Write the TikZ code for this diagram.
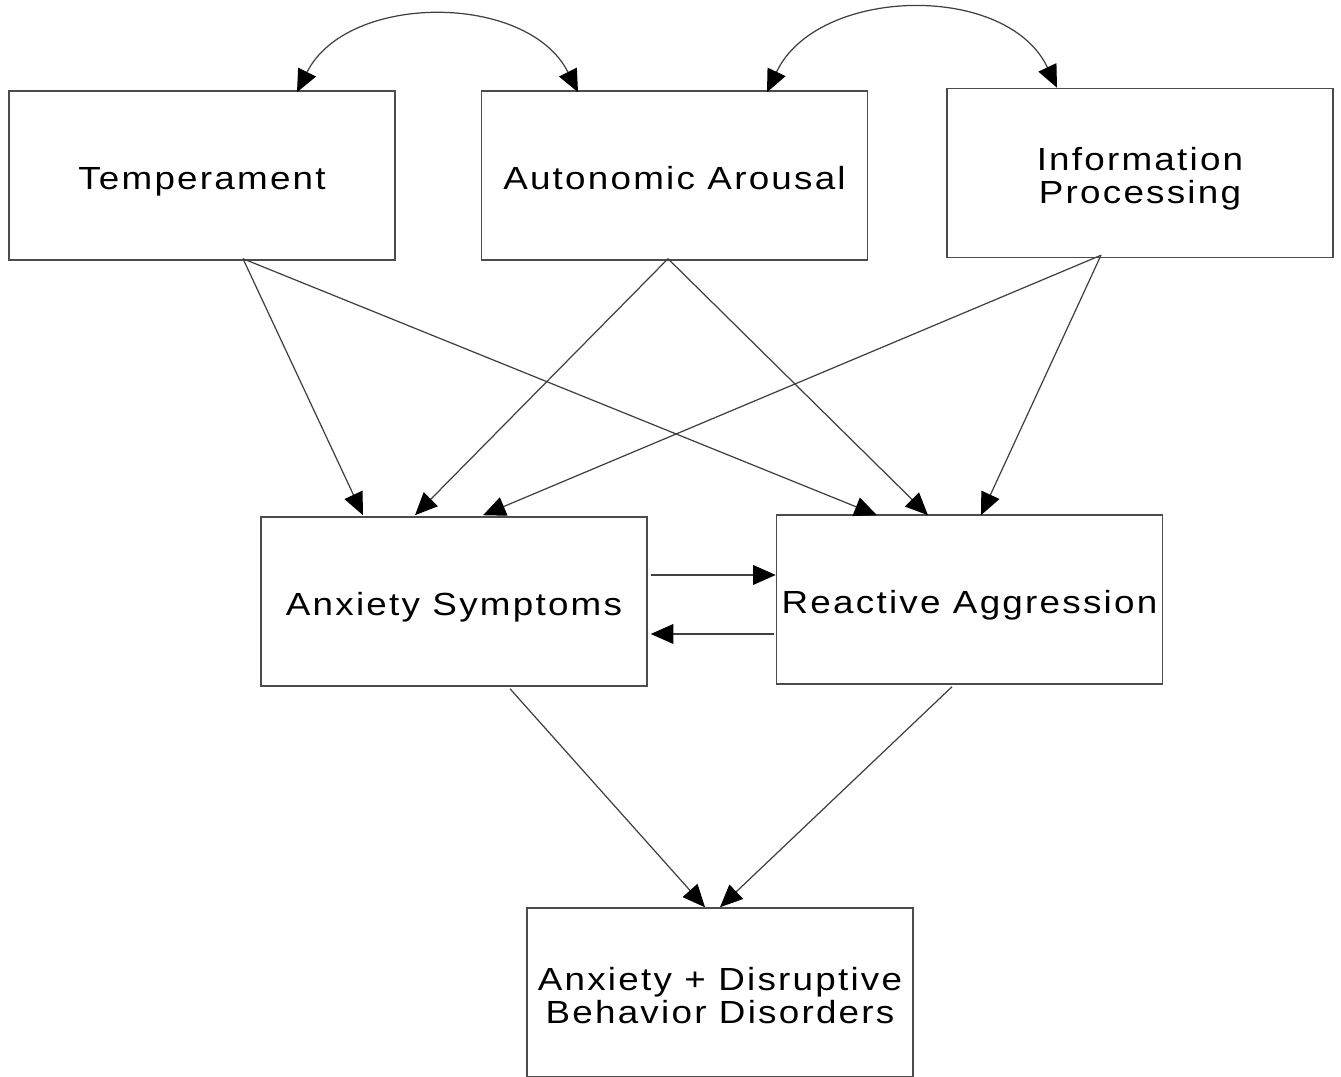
\documentclass[tikz,border=0pt]{standalone}
\usepackage{fontspec}
\setmainfont{Liberation Sans}[FakeStretch=1.15, LetterSpace=7]
\usepackage{tikz}
\usetikzlibrary{arrows.meta, calc}

% two centred lines, set a bit lower in the box
\newcommand{\twolines}[2]{\begin{tabular}{@{}c@{}}\rule{0pt}{11pt}#1\\#2\end{tabular}}

\tikzset{
  factor/.style={draw=black!70, line width=0.4pt, minimum width=3.86cm,
    minimum height=1.69cm, inner sep=0pt, text height=7.8pt, text depth=0pt,
    font=\fontsize{9.1}{9.3}\selectfont},
  twoline/.style={text height=, text depth=},
  tip/.style={-{Triangle[length=6.4pt, width=5.6pt, black]}},
  path/.style={draw=black!75, line width=0.35pt, tip},
  corr/.style={draw=black!75, line width=0.35pt,
    {Triangle[length=6.4pt, width=5.6pt, black]}-{Triangle[length=6.4pt, width=5.6pt, black]}}
}

\begin{document}
\begin{tikzpicture}[x=0.01cm, y=-0.01cm]
  \useasboundingbox (0,0) rectangle (1341,1077);

     % -------------------------
     % TOP: the three factors
     % -------------------------
      \node[factor] (temp) at (202,175.5) {Temperament};
      \node[factor] (auto) at (674.5,175.5) {Autonomic Arousal};
      \node[factor, twoline] (info) at (1140,173) {\twolines{Information}{Processing}};

     % -------------------------
     % MIDDLE: symptoms
     % -------------------------
      \node[factor] (anx) at (454,601.5) {Anxiety Symptoms};
      \node[factor] (rea) at (969.5,599.5) {Reactive Aggression};

     % -------------------------
     % BOTTOM: outcome
     % -------------------------
      \node[factor, twoline] (dis) at (720,992.5) {\twolines{Anxiety + Disruptive}{Behavior Disorders}};

      % Correlations between top factors
      \draw[corr] ($(temp.north)+(95,2)$) .. controls +(50,-100) and +(-50,-100) .. ($(auto.north)+(-96.5,2)$);
      \draw[corr] ($(auto.north)+(92.5,2)$) .. controls +(50,-106) and +(-50,-106) .. ($(info.north)+(-83,0)$);

      % Top factors to symptoms
      \draw[path] ($(temp.south)+(41,-2)$) -- ($(anx.north)+(-91,-1)$);
      \draw[path] ($(temp.south)+(41,-2)$) -- ($(rea.north)+(-92.5,1)$);
      \draw[path] ($(auto.south)+(-6.5,-2)$) -- ($(anx.north)+(-39,-1)$);
      \draw[path] ($(auto.south)+(-6.5,-2)$) -- ($(rea.north)+(-41.5,1)$);
      \draw[path] ($(info.south)+(-39,-3)$) -- ($(anx.north)+(29,-1)$);
      \draw[path] ($(info.south)+(-39,-3)$) -- ($(rea.north)+(11.5,1)$);

      % Between symptoms
      \draw[path] ($(anx.east)+(3,-26.5)$) -- ($(rea.west)+(0,-24.5)$);
      \draw[path] ($(rea.west)+(-2,34.5)$) -- ($(anx.east)+(3,32.5)$);

      % Symptoms to outcome
      \draw[path] ($(anx.south)+(56,2)$) -- ($(dis.north)+(-15,0)$);
      \draw[path] ($(rea.south)+(-17.5,2)$) -- ($(dis.north)+(0,0)$);
\end{tikzpicture}
\end{document}
